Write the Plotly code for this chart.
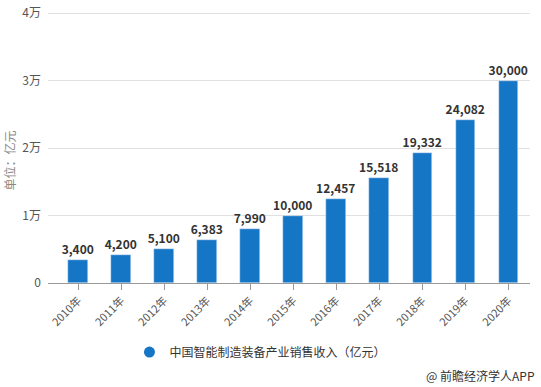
import plotly.graph_objects as go

years = ["2010年", "2011年", "2012年", "2013年", "2014年", "2015年", "2016年", "2017年", "2018年", "2019年", "2020年"]
revenue = [3400, 4200, 5100, 6383, 7990, 10000, 12457, 15518, 19332, 24082, 30000]
y_tickvals = [0, 10000, 20000, 30000, 40000]
y_ticktext = ["0", "1万", "2万", "3万", "4万"]
series_name = "中国智能制造装备产业销售收入（亿元）"

BAR = "#1576c6"
FONT = "Noto Sans CJK SC, Microsoft YaHei, sans-serif"

fig = go.Figure()
fig.add_trace(go.Bar(
    x=list(range(len(years))), y=revenue,
    marker_color=BAR, width=0.46,
    text=[f"{v:,}" for v in revenue], textposition="outside",
    constraintext="none",
    textfont=dict(size=12, color="#333333", family=FONT, weight="bold"),
    cliponaxis=False, showlegend=False, hoverinfo="skip",
))
fig.add_trace(go.Scatter(
    x=[None], y=[None], mode="markers",
    marker=dict(symbol="circle", size=11, color=BAR),
    name=series_name, showlegend=True,
))

fig.update_layout(
    width=541, height=387,
    margin=dict(l=48, r=11, t=11, b=104, autoexpand=False),
    plot_bgcolor="white", paper_bgcolor="white",
    font=dict(family=FONT, color="#555555", size=12),
    bargap=0,
    xaxis=dict(
        range=[-0.7, 10.5], automargin=False,
        tickmode="array", tickvals=list(range(len(years))), ticktext=years,
        tickangle=-45, ticks="outside", ticklen=6, tickcolor="#999999",
        showline=True, linecolor="#999999", linewidth=1,
        showgrid=False, zeroline=False,
        tickfont=dict(size=11, color="#555555"),
    ),
    yaxis=dict(
        range=[0, 40300], automargin=False,
        tickmode="array", tickvals=y_tickvals, ticktext=y_ticktext,
        showgrid=True, gridcolor="#e0e0e0", gridwidth=1,
        zeroline=False, showline=False,
        tickfont=dict(size=12, color="#555555"),
        ticklabelstandoff=6,
    ),
    legend=dict(
        orientation="h", x=0.169, xanchor="left", y=-0.254, yanchor="middle",
        font=dict(size=12, color="#333333"),
        bgcolor="rgba(0,0,0,0)", itemwidth=30,
    ),
    annotations=[
        dict(
            text="@ 前瞻经济学人APP", xref="paper", yref="paper",
            x=1.0145, y=-0.339, xanchor="right", yanchor="middle",
            showarrow=False, font=dict(size=12, color="#333333"),
        ),
        dict(
            text="单位：亿元", xref="paper", yref="paper",
            x=-0.079, y=0.45, xanchor="center", yanchor="middle", textangle=-90,
            showarrow=False, font=dict(size=12, color="#888888"),
        ),
    ],
)

fig.write_html("out.html", config={"displayModeBar": False},
               post_script="document.body.style.margin='0';")
